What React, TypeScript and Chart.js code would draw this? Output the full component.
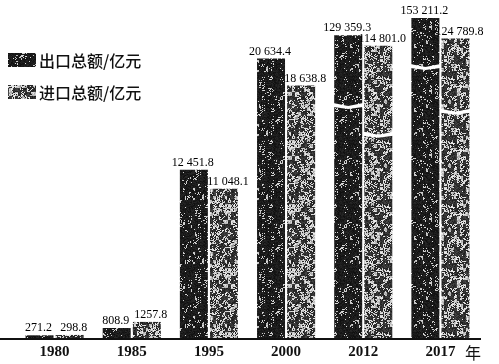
import React, { useEffect, useRef } from 'react';
import { Chart, registerables, LinearScale } from 'chart.js';

// ---- data ----
const years = ['1980', '1985', '1995', '2000', '2012', '2017'];
const exportValues = [271.2, 808.9, 12451.8, 20634.4, 129359.3, 153211.2];
const importValues = [298.8, 1257.8, 11048.1, 18638.8, 114801.0, 124789.8];
const seriesNames = ['出口总额/亿元', '进口总额/亿元'];
const axisUnit = '年';

// ---- broken (piecewise linear) value axis: [value, fraction of axis height] ----
const Y_SEGMENTS: [number, number][] = [
  [0, 0],
  [21000, 0.876],
  [114801, 0.8995],
  [160000, 1],
];

function valueToFrac(v: number): number {
  const s = Y_SEGMENTS;
  for (let i = 1; i < s.length; i++) {
    if (v <= s[i][0] || i === s.length - 1) {
      const [v0, f0] = s[i - 1];
      const [v1, f1] = s[i];
      return f0 + ((v - v0) / (v1 - v0)) * (f1 - f0);
    }
  }
  return 0;
}
function fracToValue(f: number): number {
  const s = Y_SEGMENTS;
  for (let i = 1; i < s.length; i++) {
    if (f <= s[i][1] || i === s.length - 1) {
      const [v0, f0] = s[i - 1];
      const [v1, f1] = s[i];
      return v0 + ((f - f0) / (f1 - f0)) * (v1 - v0);
    }
  }
  return 0;
}

class BrokenLinearScale extends LinearScale {
  static id = 'brokenLinear';
  static defaults = LinearScale.defaults;
  getPixelForValue(value: number) {
    const f = valueToFrac(value);
    return this.bottom - f * (this.bottom - this.top);
  }
  getValueForPixel(pixel: number) {
    const f = (this.bottom - pixel) / (this.bottom - this.top);
    return fracToValue(f);
  }
}

Chart.register(...registerables, BrokenLinearScale as any);

function hash(x: number, y: number, s: number) {
  const v = Math.sin(x * 12.9898 + y * 78.233 + s * 37.719) * 43758.5453;
  return v - Math.floor(v);
}

function makePattern(ctx: CanvasRenderingContext2D, kind: 'export' | 'import') {
  const size = 64;
  const c = document.createElement('canvas');
  c.width = size;
  c.height = size;
  const t = c.getContext('2d')!;
  const img = t.createImageData(size, size);
  for (let y = 0; y < size; y++) {
    for (let x = 0; x < size; x++) {
      const coarse = hash(Math.floor(x / 3), Math.floor(y / 4), kind === 'export' ? 1 : 3);
      const fine = hash(x, y, kind === 'export' ? 2 : 4);
      const n = 0.55 * coarse + 0.45 * fine;
      let g: number;
      if (kind === 'export') g = n > 0.77 ? 120 + 100 * fine : 15 + 25 * fine;
      else g = n > 0.55 ? 140 + 100 * fine : 28 + 45 * fine;
      const i = (y * size + x) * 4;
      img.data[i] = g;
      img.data[i + 1] = g;
      img.data[i + 2] = g;
      img.data[i + 3] = 255;
    }
  }
  t.putImageData(img, 0, 0);
  return ctx.createPattern(c, 'repeat')!;
}

function fmt(v: number): string {
  const [ip, dp] = v.toFixed(1).split('.');
  let s = ip;
  if (v >= 10000) s = ip.replace(/\B(?=(\d{3})+(?!\d))/g, ' ');
  return s + '.' + dp;
}

// decorative axis-break gaps on the tall bars: [dataset, index, fraction of bar height]
const BREAK_MARKS: [number, number, number][] = [
  [0, 4, 0.77],
  [1, 4, 0.70],
  [0, 5, 0.85],
  [1, 5, 0.76],
];

const drawPlugin = {
  id: 'customDraw',
  afterDatasetsDraw(chart: any) {
    const ctx = chart.ctx as CanvasRenderingContext2D;
    // break gaps
    ctx.save();
    ctx.fillStyle = '#ffffff';
    BREAK_MARKS.forEach(([d, i, f]) => {
      const el = chart.getDatasetMeta(d).data[i];
      if (!el) return;
      const w = el.width;
      const yMid = el.base - f * (el.base - el.y);
      const l = el.x - w / 2 - 1;
      const r = el.x + w / 2 + 1;
      ctx.beginPath();
      ctx.moveTo(l, yMid - 2);
      ctx.lineTo(el.x, yMid + 1);
      ctx.lineTo(r, yMid - 2);
      ctx.lineTo(r, yMid + 2);
      ctx.lineTo(el.x, yMid + 4);
      ctx.lineTo(l, yMid + 2);
      ctx.closePath();
      ctx.fill();
    });
    ctx.restore();

    // value labels
    ctx.save();
    ctx.fillStyle = '#000';
    ctx.font = '12px "Liberation Serif", serif';
    ctx.textAlign = 'center';
    ctx.textBaseline = 'middle';
    chart.data.datasets.forEach((ds: any, d: number) => {
      const meta = chart.getDatasetMeta(d);
      meta.data.forEach((el: any, i: number) => {
        const dx = d === 0 ? -1 : 4;
        ctx.fillText(fmt(ds.data[i]), el.x + dx, el.y - 7);
      });
    });
    ctx.restore();
  },
  afterDraw(chart: any) {
    const ctx = chart.ctx as CanvasRenderingContext2D;
    const yBase = chart.scales.y.getPixelForValue(0);
    ctx.save();
    // baseline
    ctx.fillStyle = '#111';
    ctx.fillRect(0, yBase - 1, 481, 2);
    // unit label
    ctx.font = '16px "Noto Sans CJK SC", sans-serif';
    ctx.textAlign = 'center';
    ctx.textBaseline = 'middle';
    ctx.fillText(axisUnit, 473, 353);
    // legend
    const rows = [60, 92];
    chart.data.datasets.forEach((ds: any, d: number) => {
      const y = rows[d];
      ctx.fillStyle = ds.backgroundColor;
      ctx.fillRect(8, y - 7, 28, 14);
      ctx.fillStyle = '#111';
      ctx.textAlign = 'left';
      ctx.font = '500 16px "Noto Sans CJK SC", sans-serif';
      ctx.fillText(ds.label, 39, y + 1);
    });
    ctx.restore();
  },
};

export default function App() {
  const canvasRef = useRef<HTMLCanvasElement | null>(null);

  useEffect(() => {
    document.body.style.margin = '0';
    const canvas = canvasRef.current!;
    const ctx = canvas.getContext('2d')!;
    const exportFill = makePattern(ctx, 'export');
    const importFill = makePattern(ctx, 'import');
    const chart = new Chart(canvas, {
      type: 'bar',
      data: {
        labels: years,
        datasets: [
          { label: seriesNames[0], data: exportValues, backgroundColor: exportFill as any, borderWidth: 0 },
          { label: seriesNames[1], data: importValues, backgroundColor: importFill as any, borderWidth: 0 },
        ],
      },
      options: {
        animation: false,
        responsive: false,
        devicePixelRatio: 1,
        layout: { padding: { left: 16, right: 20, top: 13, bottom: -2 } },
        datasets: { bar: { categoryPercentage: 0.78, barPercentage: 0.93 } } as any,
        plugins: { legend: { display: false }, tooltip: { enabled: false } },
        scales: {
          x: {
            grid: { display: false, drawTicks: false },
            border: { display: false },
            ticks: {
              color: '#111',
              font: { family: '"Liberation Serif", serif', size: 15, weight: 'bold' },
              padding: 4.5,
            },
          },
          y: { type: 'brokenLinear' as any, display: false, min: 0, max: 160000 },
        },
      },
      plugins: [drawPlugin],
    });
    return () => chart.destroy();
  }, []);

  return (
    <div style={{ width: 499, height: 364, background: '#fff' }}>
      <canvas ref={canvasRef} width={499} height={364} />
    </div>
  );
}
